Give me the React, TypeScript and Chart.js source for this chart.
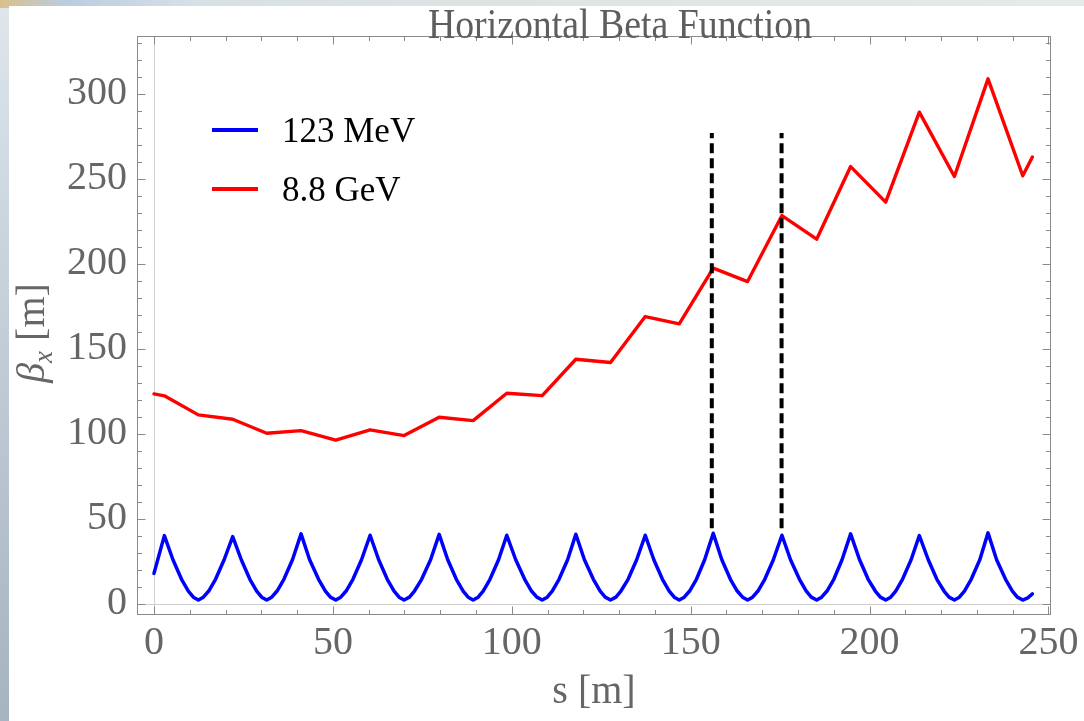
import React, { useEffect, useRef } from "react";
import { Chart, registerables } from "chart.js";

Chart.register(...registerables);

// ---------------- data ----------------
const titleText = "Horizontal Beta Function";
const xAxisTitle = "s [m]";
const seriesLabels = ["123 MeV", "8.8 GeV"];
const seriesColors = ["#0000ff", "#ff0000"];

const xTicks = [0, 50, 100, 150, 200, 250];
const yTicks = [0, 50, 100, 150, 200, 250, 300];
const xRange = [-4.75, 250.7];
const yRange = [-6.5, 334];

// 123 MeV beam (blue)
const blueS = [
  0, 2.9, 5.3, 7.7, 9.6, 11.0, 12.4, 13.8, 15.3, 17.2, 19.6,
  22.0, 24.4, 26.8, 28.7, 30.1, 31.5, 32.9, 34.4, 36.3, 38.7,
  41.1, 43.5, 46.0, 47.9, 49.3, 50.8, 52.2, 53.7, 55.6, 58.0,
  60.4, 62.8, 65.2, 67.1, 68.5, 69.9, 71.4, 72.8, 74.8, 77.3,
  79.7, 82.1, 84.5, 86.4, 87.8, 89.2, 90.6, 92.0, 93.9, 96.3,
  98.6, 101.1, 103.6, 105.5, 107.0, 108.5, 109.9, 111.3, 113.2, 115.6,
  117.9, 120.3, 122.8, 124.7, 126.1, 127.6, 129.1, 130.5, 132.5, 134.9,
  137.3, 139.7, 142.1, 144.0, 145.4, 146.8, 148.2, 149.7, 151.6, 153.9,
  156.3, 158.7, 161.1, 163.0, 164.5, 165.9, 167.3, 168.8, 170.7, 173.1,
  175.5, 177.9, 180.4, 182.3, 183.7, 185.2, 186.6, 188.1, 190.0, 192.3,
  194.7, 197.2, 199.6, 201.6, 203.0, 204.5, 205.9, 207.3, 209.2, 211.6,
  213.9, 216.4, 218.8, 220.8, 222.2, 223.7, 225.1, 226.5, 228.4, 230.8,
  233.1, 235.5, 238.0, 239.9, 241.3, 242.8, 244.2, 245.5,
];
const blueBeta = [
  18.0, 40.2, 26, 14.5, 7.6, 4.0, 2.3, 4.0, 7.6, 14.5, 26,
  39.6, 26, 14.5, 7.6, 4.0, 2.3, 4.0, 7.6, 14.5, 26,
  41.2, 26, 14.5, 7.6, 4.0, 2.3, 4.0, 7.6, 14.5, 26,
  40.4, 26, 14.5, 7.6, 4.0, 2.3, 4.0, 7.6, 14.5, 26,
  40.9, 26, 14.5, 7.6, 4.0, 2.3, 4.0, 7.6, 14.5, 26,
  40.4, 26, 14.5, 7.6, 4.0, 2.3, 4.0, 7.6, 14.5, 26,
  41.0, 26, 14.5, 7.6, 4.0, 2.3, 4.0, 7.6, 14.5, 26,
  40.4, 26, 14.5, 7.6, 4.0, 2.3, 4.0, 7.6, 14.5, 26,
  41.6, 26, 14.5, 7.6, 4.0, 2.3, 4.0, 7.6, 14.5, 26,
  40.4, 26, 14.5, 7.6, 4.0, 2.3, 4.0, 7.6, 14.5, 26,
  41.2, 26, 14.5, 7.6, 4.0, 2.3, 4.0, 7.6, 14.5, 26,
  40.2, 26, 14.5, 7.6, 4.0, 2.3, 4.0, 7.6, 14.5, 26,
  41.8, 26, 14.5, 7.6, 4.0, 2.3, 3.6, 5.9,
];

// 8.8 GeV beam (red)
const redS = [
  0, 2.9, 12.4, 22.0, 31.5, 41.1, 50.8, 60.4, 69.9, 79.7, 89.2, 98.6, 108.5,
  117.9, 127.6, 137.3, 146.8, 156.3, 165.9, 175.5, 185.2, 194.7, 204.5, 213.9,
  223.7, 233.1, 242.8, 245.5,
];
const redBeta = [
  123.5, 122.4, 111.2, 108.6, 100.4, 101.9, 96.3, 102.4, 99.0, 109.8, 107.8,
  123.9, 122.5, 143.9, 142.0, 169.0, 164.7, 197.5, 189.6, 228.4, 214.5, 257.2,
  236.3, 289.2, 251.4, 308.8, 251.8, 262.8,
];

// dashed markers
const markerS = [155.9, 175.4];
const markerBeta = [44.5, 277];

// ---------------- styling ----------------
const SERIF = '"Liberation Serif", "Times New Roman", Times, serif';
const GRAY_TEXT = "#666666";
const FRAME = "#8a8a8a";

const decorPlugin = {
  id: "decor",
  beforeDatasetsDraw(chart: any) {
    const { ctx, chartArea: a, scales } = chart;
    const x = scales.x, y = scales.y;
    ctx.save();
    ctx.strokeStyle = "#d0d0d0";
    ctx.lineWidth = 1;
    const x0 = Math.round(x.getPixelForValue(0)) + 0.5;
    const y0 = Math.round(y.getPixelForValue(0)) + 0.5;
    ctx.beginPath();
    ctx.moveTo(x0, a.top);
    ctx.lineTo(x0, a.bottom);
    ctx.moveTo(a.left, y0);
    ctx.lineTo(a.right, y0);
    ctx.stroke();
    ctx.restore();
  },
  afterDatasetsDraw(chart: any) {
    const { ctx, chartArea: a, scales } = chart;
    const x = scales.x, y = scales.y;
    ctx.save();
    ctx.strokeStyle = FRAME;
    ctx.lineWidth = 1;
    const L = Math.round(a.left) + 0.5, R = Math.round(a.right) - 0.5;
    const T = Math.round(a.top) + 0.5, B = Math.round(a.bottom) - 0.5;
    ctx.strokeRect(L, T, R - L, B - T);
    ctx.beginPath();
    const xMax = xTicks[xTicks.length - 1];
    for (let v = xTicks[0]; v <= xMax; v += 10) {
      const major = xTicks.includes(v);
      const len = major ? 8 : 4.5;
      const px = Math.round(x.getPixelForValue(v)) + 0.5;
      ctx.moveTo(px, B);
      ctx.lineTo(px, B - len);
      ctx.moveTo(px, T);
      ctx.lineTo(px, T + len);
    }
    for (let v = yTicks[0]; v <= yRange[1]; v += 10) {
      const major = yTicks.includes(v);
      const len = major ? 8 : 4.5;
      const py = Math.round(y.getPixelForValue(v)) + 0.5;
      ctx.moveTo(L, py);
      ctx.lineTo(L + len, py);
      ctx.moveTo(R, py);
      ctx.lineTo(R - len, py);
    }
    ctx.stroke();
    ctx.restore();
  },
  afterDraw(chart: any) {
    const { ctx } = chart;
    ctx.save();
    // title
    ctx.fillStyle = "#5e5e5e";
    ctx.font = `42px ${SERIF}`;
    ctx.textAlign = "center";
    ctx.textBaseline = "alphabetic";
    ctx.save();
    ctx.translate(620, 38);
    ctx.scale(0.9, 1);
    ctx.fillText(titleText, 0, 0);
    ctx.restore();

    // y axis title  beta_x [m]
    ctx.save();
    ctx.translate(44, 333);
    ctx.rotate(-Math.PI / 2);
    ctx.fillStyle = GRAY_TEXT;
    ctx.textAlign = "left";
    const fBeta = `italic 40px ${SERIF}`;
    const fSub = `italic 27px ${SERIF}`;
    const fUnit = `40px ${SERIF}`;
    ctx.font = fBeta;
    const w1 = ctx.measureText("β").width;
    ctx.font = fSub;
    const w2 = ctx.measureText("x").width;
    ctx.font = fUnit;
    const w3 = ctx.measureText(" [m]").width;
    let sx = -(w1 + w2 + w3) / 2;
    ctx.font = fBeta;
    ctx.fillText("β", sx, 0);
    sx += w1;
    ctx.font = fSub;
    ctx.fillText("x", sx, 8);
    sx += w2;
    ctx.font = fUnit;
    ctx.fillText(" [m]", sx, 0);
    ctx.restore();

    // legend
    const ds = chart.data.datasets;
    const rows = [130, 189];
    for (let i = 0; i < 2; i++) {
      ctx.strokeStyle = ds[i].borderColor;
      ctx.lineWidth = 4;
      ctx.beginPath();
      ctx.moveTo(212, rows[i]);
      ctx.lineTo(258, rows[i]);
      ctx.stroke();
      ctx.fillStyle = "#000000";
      ctx.font = `35px ${SERIF}`;
      ctx.textAlign = "left";
      ctx.textBaseline = "alphabetic";
      ctx.fillText(ds[i].label, 282, rows[i] + 12);
    }
    ctx.restore();
  },
};

export default function App() {
  const ref = useRef<HTMLCanvasElement | null>(null);

  useEffect(() => {
    document.body.style.margin = "0";
    const canvas = ref.current;
    if (!canvas) return;

    const toPts = (xs: number[], ys: number[]) => xs.map((v, i) => ({ x: v, y: ys[i] }));

    const markerSets = markerS.map((s) => ({
      label: "marker",
      data: [
        { x: s, y: markerBeta[0] },
        { x: s, y: markerBeta[1] },
      ],
      borderColor: "#000000",
      borderWidth: 4,
      borderDash: [10, 5],
      borderCapStyle: "butt",
      pointRadius: 0,
      order: 0,
    }));

    const chart = new Chart(canvas, {
      type: "line",
      data: {
        datasets: [
          {
            label: seriesLabels[0],
            data: toPts(blueS, blueBeta),
            borderColor: seriesColors[0],
            borderWidth: 3.5,
            pointRadius: 0,
            order: 1,
          },
          {
            label: seriesLabels[1],
            data: toPts(redS, redBeta),
            borderColor: seriesColors[1],
            borderWidth: 3.4,
            pointRadius: 0,
            order: 1,
          },
          ...markerSets,
        ] as any,
      },
      options: {
        responsive: false,
        animation: false,
        devicePixelRatio: 1,
        parsing: false as any,
        layout: { padding: { top: 36, right: 33, left: 0, bottom: 0 } },
        elements: {
          line: { tension: 0, borderJoinStyle: "round", borderCapStyle: "round" } as any,
          point: { radius: 0 },
        },
        plugins: {
          legend: { display: false },
          title: { display: false },
          tooltip: { enabled: false },
        },
        scales: {
          x: {
            type: "linear",
            min: xRange[0],
            max: xRange[1],
            grid: { display: false, drawTicks: false },
            border: { display: false },
            afterBuildTicks: (s: any) => {
              s.ticks = xTicks.map((v) => ({ value: v }));
            },
            afterFit: (s: any) => {
              s.height = 106;
            },
            ticks: {
              font: { family: SERIF, size: 40 },
              color: GRAY_TEXT,
              padding: 4,
              maxRotation: 0,
              autoSkip: false,
            },
            title: {
              display: true,
              text: xAxisTitle,
              font: { family: SERIF, size: 40 },
              color: GRAY_TEXT,
              padding: { top: 0, bottom: 5 },
            },
          },
          y: {
            type: "linear",
            min: yRange[0],
            max: yRange[1],
            grid: { display: false, drawTicks: false },
            border: { display: false },
            afterBuildTicks: (s: any) => {
              s.ticks = yTicks.map((v) => ({ value: v }));
            },
            afterFit: (s: any) => {
              s.width = 137;
            },
            ticks: {
              font: { family: SERIF, size: 40 },
              color: GRAY_TEXT,
              padding: 10,
              autoSkip: false,
            },
          },
        },
      } as any,
      plugins: [decorPlugin as any],
    });

    return () => chart.destroy();
  }, []);

  return (
    <div
      style={{
        position: "relative",
        width: 1084,
        height: 721,
        overflow: "hidden",
        background: "linear-gradient(to bottom, #dfe6ec 0%, #c3ced8 45%, #a6b3c0 100%)",
      }}
    >
      <div
        style={{
          position: "absolute",
          left: 0,
          top: 0,
          width: 1084,
          height: 8,
          background:
            "linear-gradient(to right, #d9c08a 0%, #b9cde0 6%, #d7e0e6 18%, #dfe6e2 60%, #e6eaea 100%)",
        }}
      />
      <div
        style={{
          position: "absolute",
          left: 9,
          top: 6,
          right: 0,
          bottom: 0,
          background: "#ffffff",
        }}
      />
      <canvas
        ref={ref}
        width={1084}
        height={721}
        style={{ position: "absolute", left: 0, top: 0, display: "block", width: 1084, height: 721 }}
      />
    </div>
  );
}
